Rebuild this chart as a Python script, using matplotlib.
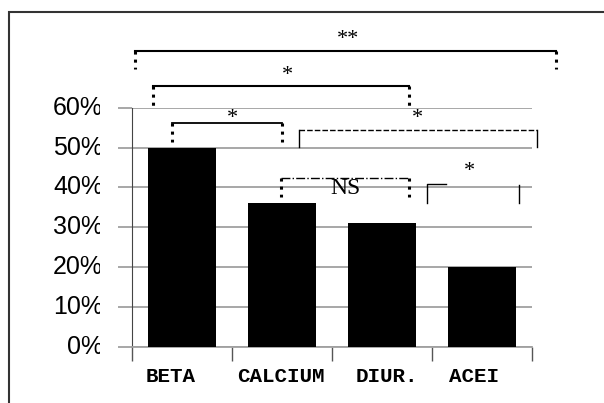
"""Bar chart of drug-class percentages with significance brackets."""

import matplotlib

matplotlib.use("Agg")
import matplotlib.pyplot as plt
from matplotlib.patches import Rectangle
from matplotlib.transforms import Bbox

categories = ["BETA", "CALCIUM", "DIUR.", "ACEI"]
values = [50, 36, 31, 20]
yticks = [0, 10, 20, 30, 40, 50, 60]

# significance brackets: x0, x1, y of bar, y of leg ends, label, label x, label y
bracket_x0 = [-0.47, -0.287, -0.103, 1.173, 0.987]
bracket_x1 = [3.737, 2.273, 0.997, 3.553, 2.273]
bracket_top = [74.3, 65.4, 56.2, 54.4, 42.4]
bracket_foot = [69.6, 60.5, 51.3, 50.1, 37.7]
bracket_text = ["**", "*", "*", "*", "NS"]
text_x = [1.66, 1.05, 0.507, 2.357, 1.63]
text_y = [77.0, 68.0, 57.3, 57.4, 39.8]

# the category captions sit a little off the bar centres in the original
label_shift = [-0.11, -0.015, 0.05, -0.08]

W, H = 604, 403
fig = plt.figure(figsize=(W / 100, H / 100), dpi=100)
ax = fig.add_axes([132 / W, (H - 346.7) / H, 400 / W, 239 / H])

x = list(range(len(categories)))
ax.bar(x, values, width=0.68, color="black", zorder=3)
ax.set_xlim(-0.5, 3.5)
ax.set_ylim(0, 60)

grid_color = "#a0a0a0"
ax.set_yticks(yticks)
ax.yaxis.grid(True, color=grid_color, linewidth=1.3, zorder=0)
ax.tick_params(axis="y", length=10, color=grid_color, width=1.3, labelleft=False)
for side in ("top", "right"):
    ax.spines[side].set_visible(False)
ax.spines["left"].set_color("#444444")
ax.spines["bottom"].set_color(grid_color)
ax.spines["bottom"].set_linewidth(1.3)

ax.set_xticks([-0.5, 0.5, 1.5, 2.5, 3.5])
ax.tick_params(axis="x", length=10, color="#555555", width=1, labelbottom=False)
for xi, name, dx in zip(x, categories, label_shift):
    ax.text(xi + dx, -0.1464, name, transform=ax.get_xaxis_transform(),
            ha="center", va="baseline", family="Liberation Mono", weight="bold",
            fontsize=15)

# y labels, clipped on the right like the original
clip = Bbox.from_extents(0, 0, 100, H)
for v in yticks:
    yp = ax.transData.transform((0, v))[1] / H
    t = fig.text(103 / W, yp, f"{v}%", ha="right", va="center", fontsize=18,
                 family="Liberation Sans")
    t.set_clip_box(clip)
    t.set_clip_on(True)

kw = dict(clip_on=False, zorder=5)
styles = [("-", ":"), ("-", ":"), ("-", ":"), ((0, (4, 1.5)), "-"), ("-.", ":")]
widths = [(1.5, 2.2), (1.5, 2.2), (1.3, 2.2), (1.0, 1.0), (1.0, 2.2)]
for i in range(len(bracket_text)):
    hs, ls = styles[i]
    hw, lw = widths[i]
    ax.plot([bracket_x0[i], bracket_x1[i]], [bracket_top[i]] * 2, color="black",
            linestyle=hs, linewidth=hw, **kw)
    for xx in (bracket_x0[i], bracket_x1[i]):
        ax.plot([xx, xx], [bracket_top[i], bracket_foot[i]], color="black",
                linestyle=ls, linewidth=lw, **kw)
    size = 17 if bracket_text[i] == "NS" else 16
    ax.text(text_x[i], text_y[i], bracket_text[i], ha="center", va="center",
            family="Liberation Serif", fontsize=size, zorder=6, clip_on=False)

# ACEI bracket: broken top, thin legs
ax.plot([2.453, 2.453, 2.637], [36.0, 40.8, 40.8], color="black", linewidth=1, **kw)
ax.plot([3.373, 3.373], [36.0, 40.6], color="black", linewidth=1, **kw)
ax.text(2.873, 43.9, "*", ha="center", va="center", family="Liberation Serif",
        fontsize=16, clip_on=False)

fig.patches.append(Rectangle((9 / W, -0.1), 1.2, (H - 12.3) / H + 0.1, fill=False,
                             edgecolor="#333333", linewidth=1.5,
                             transform=fig.transFigure, figure=fig))

fig.savefig("out.png", dpi=100)
